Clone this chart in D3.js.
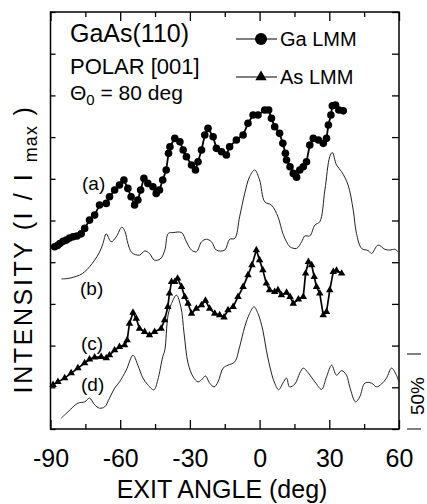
<!DOCTYPE html>
<html><head><meta charset="utf-8">
<script src="https://cdn.jsdelivr.net/npm/d3@7"></script>
<style>
html,body{margin:0;padding:0;background:#fff;}
svg{display:block;font-family:"Liberation Sans",Arial,Helvetica,sans-serif;}
</style></head>
<body>
<svg id="chart" width="427" height="504"></svg>
<script>
// ---- data ----
const xTicks = [-90, -60, -30, 0, 30, 60];
const xMinorTicks = [-75, -45, -15, 15, 45];
const yTicks = [0,1,2,3,4,5,6,7,8,9,10];
const curveLabels = ["(a)", "(b)", "(c)", "(d)"];
const legendLabels = ["Ga LMM", "As LMM"];

// (a) Ga LMM
const gaAngle = [-88.2,-87.0,-86.0,-84.6,-83.2,-81.8,-80.3,-78.6,-76.8,-75.3,-73.2,-71.0,-68.9,-66.0,-64.6,-62.4,-60.3,-58.4,-56.7,-55.3,-53.8,-52.4,-51.2,-49.8,-48.1,-45.9,-44.5,-43.1,-41.7,-40.2,-39.2,-38.6,-36.5,-34.3,-32.9,-31.5,-29.3,-27.6,-26.5,-25.0,-23.6,-22.2,-20.0,-18.6,-16.4,-14.3,-12.9,-10.0,-7.1,-5.0,-2.8,-0.7,2.2,3.9,5.1,6.5,8.6,10.0,11.1,11.6,13.1,14.5,15.9,17.3,18.8,20.2,21.6,23.1,25.3,27.4,28.8,29.6,30.7,31.3,32.7,34.1,36.0];
const gaValue = [4.37,4.40,4.45,4.50,4.53,4.58,4.61,4.63,4.68,4.81,5.01,5.13,5.37,5.41,5.57,5.73,5.85,5.97,5.77,5.57,5.37,5.49,5.73,6.01,5.89,5.81,5.65,5.73,5.97,6.21,6.61,6.77,6.97,6.89,6.69,6.53,6.33,6.21,6.41,6.69,7.05,7.21,7.01,6.73,6.65,6.57,6.77,6.93,7.05,7.33,7.53,7.53,7.65,7.65,7.45,7.25,7.09,6.85,6.61,6.45,6.29,6.13,6.04,6.21,6.29,6.41,6.81,6.97,6.93,6.85,6.97,7.29,7.53,7.75,7.77,7.65,7.63];

// (b) thin curve
const bAngle = [-85.3,-82.5,-77.5,-75.3,-73.2,-71.0,-68.9,-67.4,-66.0,-63.9,-61.7,-59.3,-57.9,-56.7,-55.0,-51.7,-49.4,-47.4,-45.3,-42.7,-40.8,-39.3,-37.2,-33.6,-31.5,-29.3,-27.2,-25.0,-22.9,-20.7,-18.6,-15.0,-12.9,-10.7,-8.6,-6.4,-4.3,-2.1,0.0,2.2,5.1,7.9,10.0,11.6,13.1,15.9,18.1,19.5,21.6,23.8,25.9,28.1,30.2,31.3,33.1,35.3,38.1,40.3,41.7,43.9,46.7,48.2,51.0,53.9,56.0,58.2,59.6];
const bValue = [3.60,3.61,3.69,3.77,3.89,4.05,4.24,4.45,4.68,4.49,4.61,4.84,4.73,4.45,4.23,4.17,4.27,4.21,4.05,4.08,4.29,4.69,4.71,4.71,4.49,4.29,4.25,4.49,4.55,4.49,4.29,4.29,4.55,4.57,5.09,5.65,6.05,6.21,5.97,5.45,5.37,5.09,4.69,4.49,4.37,4.33,4.49,4.63,4.63,4.89,4.97,5.73,6.53,6.63,6.33,6.17,5.85,5.25,4.69,4.33,4.28,4.21,4.41,4.31,4.29,4.31,4.25];

// (c) As LMM
const asAngle = [-88.9,-86.8,-83.9,-81.1,-78.2,-75.3,-73.2,-71.0,-68.2,-66.0,-64.6,-62.4,-60.3,-58.1,-57.0,-56.0,-54.5,-53.1,-51.7,-49.5,-47.4,-45.2,-42.4,-40.9,-39.5,-38.8,-37.9,-36.5,-35.3,-33.6,-32.2,-30.8,-29.3,-27.2,-25.0,-23.3,-21.5,-19.3,-17.2,-15.3,-13.6,-11.4,-9.3,-7.1,-5.0,-3.3,-1.4,0.0,1.4,2.9,4.3,6.5,7.9,9.4,11.6,13.1,14.5,16.7,18.8,19.8,21.0,22.4,23.5,24.5,25.9,27.4,28.8,30.2,31.7,33.1,35.3];
const asValue = [1.06,1.13,1.22,1.34,1.46,1.58,1.67,1.72,1.73,1.70,1.77,1.89,1.97,2.01,2.13,2.53,2.79,2.65,2.41,2.33,2.25,2.33,2.41,2.61,2.93,3.25,3.53,3.53,3.61,3.41,3.17,3.01,2.77,2.89,2.97,3.08,2.89,2.77,2.73,2.68,2.85,2.93,3.17,3.41,3.69,3.93,4.29,4.05,3.81,3.49,3.33,3.29,3.33,3.21,3.27,3.17,3.01,3.11,3.17,3.73,4.01,3.93,3.65,3.41,3.25,2.73,2.81,3.33,3.77,3.80,3.73];

// (d) thin curve
const dAngle = [-85.4,-82.5,-78.2,-75.3,-73.2,-71.0,-68.9,-66.7,-64.6,-62.4,-60.3,-57.4,-54.5,-52.4,-50.2,-48.1,-45.5,-43.8,-41.7,-40.8,-39.4,-37.9,-35.8,-33.9,-32.5,-30.8,-28.6,-26.5,-25.0,-23.3,-21.5,-19.6,-17.9,-15.7,-13.6,-10.7,-8.6,-6.4,-4.3,-2.4,-0.7,1.4,2.9,5.1,6.5,8.2,10.0,11.6,12.9,15.2,17.3,18.8,21.0,23.8,26.7,28.8,31.0,33.1,35.3,37.4,38.8,41.3,43.1,45.3,48.2,50.3,52.5,54.6,56.8,58.9,59.9];
const dValue = [0.26,0.41,0.62,0.65,0.74,0.58,0.50,0.53,0.74,0.98,1.13,1.41,1.77,1.53,1.22,1.06,0.94,1.18,1.73,1.89,2.73,3.01,3.21,2.93,2.29,1.58,1.25,1.13,1.18,1.27,1.10,1.01,1.13,1.46,1.53,1.61,1.97,2.45,2.77,2.93,2.77,2.37,1.89,1.34,1.10,0.94,1.10,1.22,1.01,1.08,1.34,1.46,1.34,1.13,0.95,1.25,1.53,1.29,1.40,1.29,1.01,0.65,0.77,1.10,1.10,1.01,1.08,1.22,1.46,1.29,1.13];

// ---- drawing ----
const svg = d3.select("#chart");
const pL = 50.5, pR = 399, pT = 12, pB = 429;
const x = d3.scaleLinear().domain([-90, 60]).range([pL, pR]);
const y = d3.scaleLinear().domain([0, 10]).range([pB, pT]);

const zip = (a, b) => a.map((v, i) => [v, b[i]]);
const ga = zip(gaAngle, gaValue), bb = zip(bAngle, bValue), as = zip(asAngle, asValue), dd = zip(dAngle, dValue);

// frame
svg.append("rect").attr("x", pL).attr("y", pT).attr("width", pR-pL).attr("height", pB-pT)
  .attr("fill", "none").attr("stroke", "#000").attr("stroke-width", 1.5);

function styleAxis(g){ g.select(".domain").remove(); g.selectAll("line").attr("stroke","#000").attr("stroke-width",1.3); }

// bottom axis major with labels
svg.append("g").attr("transform", `translate(0,${pB})`)
  .call(d3.axisBottom(x).tickValues(xTicks).tickSizeInner(-9).tickSizeOuter(0).tickPadding(20).tickFormat(d => String(d)))
  .call(styleAxis)
  .call(g => g.selectAll("text").attr("font-size", 25).attr("fill", "#000").attr("font-family", "Liberation Sans, Arial, sans-serif"));
svg.append("g").attr("transform", `translate(0,${pB})`)
  .call(d3.axisBottom(x).tickValues(xMinorTicks).tickSizeInner(-5).tickSizeOuter(0).tickFormat(""))
  .call(styleAxis);
// top axis
svg.append("g").attr("transform", `translate(0,${pT})`)
  .call(d3.axisTop(x).tickValues(xTicks).tickSizeInner(-9).tickSizeOuter(0).tickFormat(""))
  .call(styleAxis);
svg.append("g").attr("transform", `translate(0,${pT})`)
  .call(d3.axisTop(x).tickValues(xMinorTicks).tickSizeInner(-5).tickSizeOuter(0).tickFormat(""))
  .call(styleAxis);
// left / right axes
svg.append("g").attr("transform", `translate(${pL},0)`)
  .call(d3.axisLeft(y).tickValues(yTicks).tickSizeInner(-5).tickSizeOuter(0).tickFormat(""))
  .call(styleAxis);
svg.append("g").attr("transform", `translate(${pR},0)`)
  .call(d3.axisRight(y).tickValues(yTicks).tickSizeInner(-7).tickSizeOuter(0).tickFormat(""))
  .call(styleAxis);

// thin curves
const thin = d3.line().x(d => x(d[0])).y(d => y(d[1])).curve(d3.curveCatmullRom.alpha(0.5));
[bb, dd].forEach(s => svg.append("path").datum(s).attr("d", thin)
  .attr("fill", "none").attr("stroke", "#222").attr("stroke-width", 1));

// thick series
const lin = d3.line().x(d => x(d[0])).y(d => y(d[1]));
svg.append("path").datum(ga).attr("d", lin).attr("fill","none").attr("stroke","#000").attr("stroke-width",1.8);
svg.append("g").selectAll("circle").data(ga).join("circle")
  .attr("cx", d => x(d[0])).attr("cy", d => y(d[1])).attr("r", 3.8).attr("fill", "#000");
svg.append("path").datum(as).attr("d", lin).attr("fill","none").attr("stroke","#000").attr("stroke-width",1.7);
const tri = d3.symbol().type(d3.symbolTriangle).size(24);
svg.append("g").selectAll("path").data(as).join("path")
  .attr("transform", d => `translate(${x(d[0])},${y(d[1])})`).attr("d", tri).attr("fill", "#000");

// curve labels
const labelPos = [[82,190],[80,295],[81,350],[81,391]];
svg.append("g").selectAll("text").data(curveLabels).join("text")
  .attr("x", (d,i) => labelPos[i][0]).attr("y", (d,i) => labelPos[i][1])
  .attr("font-size", 19).text(d => d);

// title texts
svg.append("text").attr("x", 70).attr("y", 42).attr("font-size", 25).text("GaAs(110)");
svg.append("text").attr("x", 70).attr("y", 74).attr("font-size", 22).text("POLAR [001]");
const th = svg.append("text").attr("x", 70).attr("y", 100).attr("font-size", 21);
th.append("tspan").text("\u0398");
th.append("tspan").attr("dy", 5).attr("font-size", 15).text("0");
th.append("tspan").attr("dy", -5).text(" = 80 deg");

// legend
const legY = [39, 77];
legendLabels.forEach((t, i) => {
  svg.append("line").attr("x1", 236).attr("x2", 277).attr("y1", legY[i]).attr("y2", legY[i]).attr("stroke", "#000").attr("stroke-width", 1.2);
  if (i === 0) svg.append("circle").attr("cx", 261).attr("cy", legY[i]).attr("r", 6).attr("fill", "#000");
  else svg.append("path").attr("transform", `translate(261,${legY[i]})`).attr("d", d3.symbol().type(d3.symbolTriangle).size(55)).attr("fill", "#000");
  svg.append("text").attr("x", 280).attr("y", legY[i] + 6.5).attr("font-size", 20).text(t);
});

// axis titles
svg.append("text").attr("x", 222).attr("y", 498).attr("text-anchor", "middle").attr("font-size", 25).text("EXIT ANGLE (deg)");
const yl = svg.append("text").attr("transform", "translate(32,249) rotate(-90)").attr("text-anchor", "middle")
  .attr("font-size", 25).attr("letter-spacing", 2.6);
yl.append("tspan").text("INTENSITY (I / I ");
yl.append("tspan").attr("dy", 5).attr("font-size", 18).attr("letter-spacing", 1).text("max");
yl.append("tspan").attr("dy", -5).text(" )");

// 50% scale bar
const barTop = 354;
svg.append("line").attr("x1", 407).attr("x2", 421).attr("y1", barTop).attr("y2", barTop).attr("stroke", "#000").attr("stroke-width", 1);
svg.append("line").attr("x1", 407).attr("x2", 421).attr("y1", pB).attr("y2", pB).attr("stroke", "#000").attr("stroke-width", 1);
svg.append("text").attr("transform", "translate(424,396) rotate(-90)").attr("text-anchor", "middle").attr("font-size", 19).text("50%");
</script>
</body></html>
